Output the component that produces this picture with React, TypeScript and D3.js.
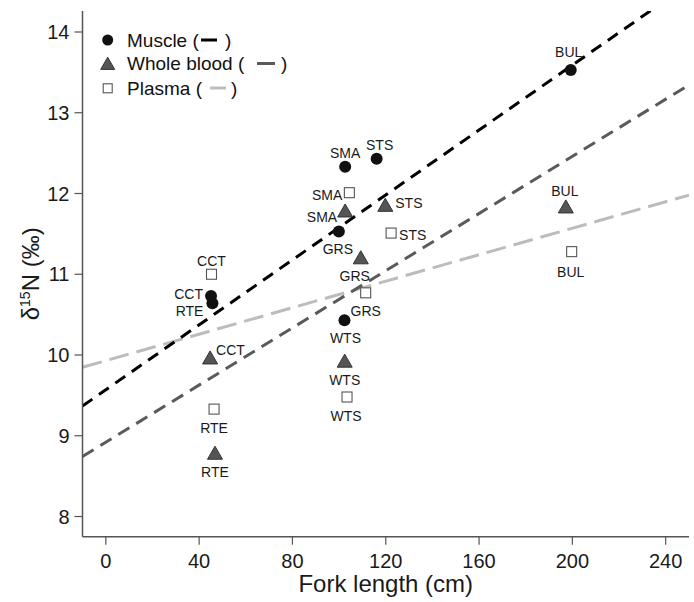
import React from "react";
import * as d3 from "d3";

const species = ["BUL", "SMA", "STS", "GRS", "WTS", "CCT", "RTE"];
const muscleX = [199.3, 102.6, 116.1, 99.9, 102.3, 45.1, 45.7];
const muscleY = [13.53, 12.33, 12.43, 11.53, 10.43, 10.73, 10.64];
const bloodX = [197.2, 102.6, 119.8, 109.3, 102.4, 44.7, 46.8];
const bloodY = [11.84, 11.79, 11.86, 11.21, 9.93, 9.97, 8.79];
const plasmaX = [199.7, 104.4, 122.3, 111.4, 103.4, 45.3, 46.4];
const plasmaY = [11.28, 12.01, 11.51, 10.77, 9.48, 11.0, 9.33];

const lineNames = ["Muscle", "Whole blood", "Plasma"];
const lineIntercepts = [9.57, 8.92, 9.93];
const lineSlopes = [0.0201, 0.0177, 0.0082];

const xTicks = [0, 40, 80, 120, 160, 200, 240];
const yTicks = [8, 9, 10, 11, 12, 13, 14];

// label placement: [dx, dy, anchor]
type LP = [number, number, string];
const muscleLab: LP[] = [[-2, -18, "middle"], [0, -14, "middle"], [3, -14, "middle"], [-1, 18, "middle"], [1, 18, "middle"], [-8, -2, "end"], [-9, 8, "end"]];
const bloodLab: LP[] = [[-1, -15, "middle"], [-8, 7, "end"], [10, -2, "start"], [-6, 19, "middle"], [0, 19, "middle"], [6, -7, "start"], [0, 19, "middle"]];
const plasmaLab: LP[] = [[-1, 20, "middle"], [-7, 2, "end"], [8, 2, "start"], [0, 18, "middle"], [-1, 19, "middle"], [0, -13, "middle"], [0, 19, "middle"]];

const W = 694, H = 602;
const left = 82.5, right = 689, top = 11, bottom = 536.7;

const FONT = "'Liberation Sans', Arial, Helvetica, sans-serif";

export default function App() {
  const x = d3.scaleLinear().domain([-10, 250]).range([left, right]);
  const y = d3.scaleLinear().domain([7.75, 14.26]).range([bottom, top]);
  const axisColor = "#555";
  const lineStyles = [
    { color: "#000", dash: "12 8", width: 3 },
    { color: "#5a5a5a", dash: "13 8", width: 3 },
    { color: "#bcbcbc", dash: "20 8", width: 3 },
  ];
  const tri = (cx: number, cy: number, s: number) => {
    const h = s * 0.87;
    return `M${cx},${cy - h / 2}L${cx + s / 2},${cy + h / 2}L${cx - s / 2},${cy + h / 2}Z`;
  };
  const label = (lx: number, ly: number, lp: LP, text: string, key: string) => (
    <text key={key} x={lx + lp[0]} y={ly + lp[1]} textAnchor={lp[2] as any} dominantBaseline="central"
      fontSize={14} fill="#1a1a1a" fontFamily={FONT}>{text}</text>
  );
  const regLine = (i: number) => {
    const xs = [-10, 250];
    const gen = d3.line<number>().x((v) => x(v)).y((v) => y(lineIntercepts[i] + lineSlopes[i] * v));
    return (
      <path key={"l" + i} d={gen(xs) || ""} fill="none" stroke={lineStyles[i].color}
        strokeWidth={lineStyles[i].width} strokeDasharray={lineStyles[i].dash} clipPath="url(#plotclip)" />
    );
  };
  return (
    <svg width={W} height={H} style={{ position: "absolute", left: 0, top: 0, background: "#fff" }} fontFamily={FONT}>
      <defs>
        <clipPath id="plotclip">
          <rect x={left} y={top} width={right - left} height={bottom - top} />
        </clipPath>
      </defs>
      {regLine(2)}
      {regLine(1)}
      {regLine(0)}
      <line x1={left} x2={left} y1={top} y2={bottom} stroke={axisColor} strokeWidth={1.5} />
      <line x1={left} x2={right} y1={bottom} y2={bottom} stroke={axisColor} strokeWidth={1.5} />
      {xTicks.map((t) => (
        <g key={"xt" + t}>
          <line x1={x(t)} x2={x(t)} y1={bottom} y2={bottom + 8} stroke={axisColor} strokeWidth={1.2} />
          <text x={x(t)} y={bottom + 31} textAnchor="middle" fontSize={20} fill="#1a1a1a">{t}</text>
        </g>
      ))}
      {yTicks.map((t) => (
        <g key={"yt" + t}>
          <line x1={left - 8} x2={left} y1={y(t)} y2={y(t)} stroke={axisColor} strokeWidth={1.2} />
          <text x={left - 13} y={y(t)} textAnchor="end" dominantBaseline="central" fontSize={20} fill="#1a1a1a">{t}</text>
        </g>
      ))}
      <text x={(left + right) / 2} y={592} textAnchor="middle" fontSize={24} fill="#1a1a1a">Fork length (cm)</text>
      <text transform={`translate(39,${(top + bottom) / 2}) rotate(-90)`} textAnchor="middle" fontSize={24} fill="#1a1a1a">
        δ<tspan fontSize={14} dy={-9}>15</tspan><tspan dy={9}>N (‰)</tspan>
      </text>
      {plasmaX.map((v, i) => (
        <rect key={"p" + i} x={x(v) - 5} y={y(plasmaY[i]) - 5} width={10} height={10} fill="#fff" stroke="#555" strokeWidth={1.1} />
      ))}
      {bloodX.map((v, i) => (
        <path key={"b" + i} d={tri(x(v), y(bloodY[i]), 15)} fill="#555" stroke="#333" strokeWidth={1} />
      ))}
      {muscleX.map((v, i) => (
        <circle key={"m" + i} cx={x(v)} cy={y(muscleY[i])} r={6} fill="#111" />
      ))}
      {species.map((s, i) => label(x(muscleX[i]), y(muscleY[i]), muscleLab[i], s, "ml" + i))}
      {species.map((s, i) => label(x(bloodX[i]), y(bloodY[i]), bloodLab[i], s, "bl" + i))}
      {species.map((s, i) => label(x(plasmaX[i]), y(plasmaY[i]), plasmaLab[i], s, "pl" + i))}
      <g fontSize={19} fill="#111">
        <circle cx={107.7} cy={40} r={5.5} fill="#111" />
        <text x={127} y={46.5}>{lineNames[0] + " ("}</text>
        <line x1={201} x2={217} y1={40} y2={40} stroke={lineStyles[0].color} strokeWidth={3} />
        <text x={225} y={46.5}>)</text>

        <path d={tri(107.7, 63.3, 14)} fill="#555" stroke="#333" strokeWidth={1} />
        <text x={127} y={70}>{lineNames[1] + " ("}</text>
        <line x1={257} x2={275} y1={63.5} y2={63.5} stroke={lineStyles[1].color} strokeWidth={3} />
        <text x={281} y={70}>)</text>

        <rect x={103.2} y={83.8} width={9} height={9} fill="#fff" stroke="#555" strokeWidth={1.1} />
        <text x={127} y={95}>{lineNames[2] + " ("}</text>
        <line x1={210} x2={226} y1={88} y2={88} stroke={lineStyles[2].color} strokeWidth={3} />
        <text x={231} y={95}>)</text>
      </g>
    </svg>
  );
}
